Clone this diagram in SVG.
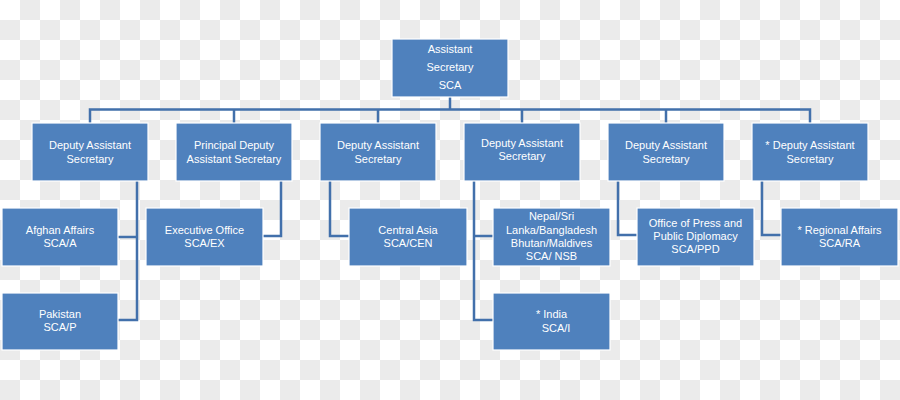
<svg xmlns="http://www.w3.org/2000/svg" width="900" height="400" viewBox="0 0 900 400">
<defs>
<pattern id="chk" x="0" y="0" width="40" height="40" patternUnits="userSpaceOnUse">
<rect x="0" y="0" width="40" height="40" fill="#ffffff"/>
<rect x="20" y="0" width="20" height="20" fill="#ebebeb"/>
<rect x="0" y="20" width="20" height="20" fill="#ebebeb"/>
</pattern>
<style>
.box{fill:#4f81bd;stroke:#ffffff;stroke-width:1.2}
.t{font-family:"Liberation Sans","DejaVu Sans",sans-serif;font-size:11px;fill:#ffffff;text-anchor:middle}
.c{fill:none;stroke:#4270ab;stroke-width:2.5}
</style>
</defs>
<rect x="0" y="0" width="900" height="400" fill="url(#chk)"/>
<g id="connectors">
<path class="c" d="M450 97 V109.5"/>
<path class="c" d="M90 123 V109.5 H810 V123"/>
<path class="c" d="M234 109.5 V123"/>
<path class="c" d="M378 109.5 V123"/>
<path class="c" d="M522 109.5 V123"/>
<path class="c" d="M666 109.5 V123"/>
<path class="c" d="M137 181 V320 H118"/>
<path class="c" d="M137 237 H118"/>
<path class="c" d="M281 181 V236 H263"/>
<path class="c" d="M330 181 V236 H349"/>
<path class="c" d="M474 181 V320 H493"/>
<path class="c" d="M474 236 H493"/>
<path class="c" d="M618 181 V235 H637"/>
<path class="c" d="M762 181 V235 H781"/>
</g>
<g id="n_as">
<rect class="box" x="392" y="39" width="116" height="58"/>
<text class="t" x="450" y="53">Assistant</text>
<text class="t" x="450" y="71">Secretary</text>
<text class="t" x="450" y="89">SCA</text>
</g>
<g id="n_das1">
<rect class="box" x="32" y="123" width="116" height="58"/>
<text class="t" x="90" y="149">Deputy Assistant</text>
<text class="t" x="90" y="163">Secretary</text>
</g>
<g id="n_pdas">
<rect class="box" x="176" y="123" width="116" height="58"/>
<text class="t" x="234" y="149">Principal Deputy</text>
<text class="t" x="234" y="163">Assistant Secretary</text>
</g>
<g id="n_das3">
<rect class="box" x="320" y="123" width="116" height="58"/>
<text class="t" x="378" y="149">Deputy Assistant</text>
<text class="t" x="378" y="163">Secretary</text>
</g>
<g id="n_das4">
<rect class="box" x="464" y="123" width="116" height="58"/>
<text class="t" x="522" y="147">Deputy Assistant</text>
<text class="t" x="522" y="160">Secretary</text>
</g>
<g id="n_das5">
<rect class="box" x="608" y="123" width="116" height="58"/>
<text class="t" x="666" y="149">Deputy Assistant</text>
<text class="t" x="666" y="163">Secretary</text>
</g>
<g id="n_das6">
<rect class="box" x="752" y="123" width="116" height="58"/>
<text class="t" x="810" y="149">* Deputy Assistant</text>
<text class="t" x="810" y="163">Secretary</text>
</g>
<g id="n_afghan">
<rect class="box" x="2" y="208" width="116" height="58"/>
<text class="t" x="60" y="234">Afghan Affairs</text>
<text class="t" x="60" y="247">SCA/A</text>
</g>
<g id="n_pakistan">
<rect class="box" x="2" y="293" width="116" height="57"/>
<text class="t" x="60" y="318">Pakistan</text>
<text class="t" x="60" y="331">SCA/P</text>
</g>
<g id="n_exec">
<rect class="box" x="146" y="208" width="117" height="58"/>
<text class="t" x="204.5" y="234">Executive Office</text>
<text class="t" x="204.5" y="247">SCA/EX</text>
</g>
<g id="n_cen">
<rect class="box" x="349" y="208" width="118" height="58"/>
<text class="t" x="408" y="234">Central Asia</text>
<text class="t" x="408" y="247">SCA/CEN</text>
</g>
<g id="n_nsb">
<rect class="box" x="493" y="208" width="117" height="58"/>
<text class="t" x="551.5" y="220">Nepal/Sri</text>
<text class="t" x="551.5" y="233.5">Lanka/Bangladesh</text>
<text class="t" x="551.5" y="247">Bhutan/Maldives</text>
<text class="t" x="551.5" y="260">SCA/ NSB</text>
</g>
<g id="n_india">
<rect class="box" x="493" y="293" width="117" height="57"/>
<text class="t" x="551.5" y="318">* India</text>
<text class="t" x="556" y="332">SCA/I</text>
</g>
<g id="n_ppd">
<rect class="box" x="637" y="208" width="117" height="58"/>
<text class="t" x="695.5" y="227">Office of Press and</text>
<text class="t" x="695.5" y="240">Public Diplomacy</text>
<text class="t" x="695.5" y="253">SCA/PPD</text>
</g>
<g id="n_ra">
<rect class="box" x="781" y="208" width="117" height="58"/>
<text class="t" x="839.5" y="234">* Regional Affairs</text>
<text class="t" x="839.5" y="247">SCA/RA</text>
</g>
</svg>
